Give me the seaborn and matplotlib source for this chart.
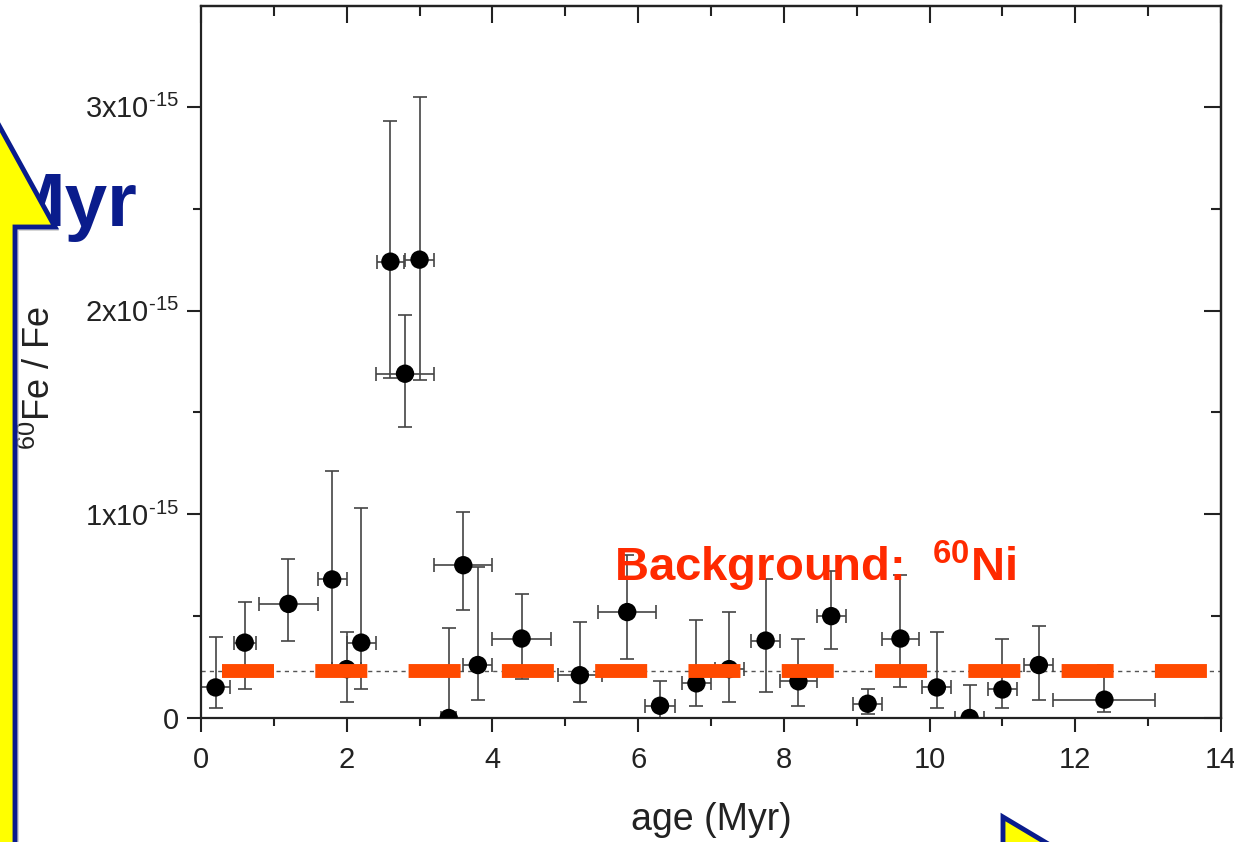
import matplotlib
matplotlib.use("Agg")
import matplotlib.pyplot as plt
from matplotlib.patches import Polygon
from matplotlib.ticker import MultipleLocator, FuncFormatter
import numpy as np
import pandas as pd
import seaborn as sns

# data (ratio in units of 1e-15)
age = [0.2, 0.6, 1.2, 1.8, 2.0, 2.2, 2.6, 2.8, 3.0, 3.4, 3.6, 3.8, 4.4, 5.2,
       5.85, 6.3, 6.8, 7.25, 7.75, 8.2, 8.65, 9.15, 9.6, 10.1, 10.55, 11.0, 11.5, 12.4]
age_err = [0.2, 0.15, 0.4, 0.2, 0.2, 0.2, 0.18, 0.4, 0.2, 0.1, 0.4, 0.2, 0.4, 0.3,
           0.4, 0.2, 0.2, 0.2, 0.2, 0.25, 0.2, 0.2, 0.25, 0.2, 0.2, 0.2, 0.2, 0.7]
ratio = [0.15, 0.37, 0.56, 0.68, 0.24, 0.37, 2.24, 1.69, 2.25, 0.0, 0.75, 0.26, 0.39, 0.21,
         0.52, 0.06, 0.17, 0.24, 0.38, 0.18, 0.50, 0.07, 0.39, 0.15, 0.0, 0.14, 0.26, 0.09]
ratio_hi = [0.40, 0.57, 0.78, 1.21, 0.42, 1.03, 2.93, 1.98, 3.05, 0.44, 1.01, 0.74, 0.61, 0.47,
            0.80, 0.18, 0.48, 0.52, 0.68, 0.39, 0.72, 0.14, 0.70, 0.42, 0.16, 0.39, 0.45, 0.26]
ratio_lo = [0.05, 0.14, 0.38, 0.25, 0.08, 0.14, 1.67, 1.43, 1.66, 0.0, 0.53, 0.09, 0.19, 0.08,
            0.29, 0.0, 0.06, 0.08, 0.13, 0.06, 0.34, 0.02, 0.15, 0.05, 0.0, 0.05, 0.09, 0.03]
background = 0.23
scale = 1e-15

W, H = 1234, 842

sns.set_theme(style="ticks")
plt.rcParams["font.family"] = ["Liberation Sans", "DejaVu Sans"]
plt.rcParams["mathtext.fontset"] = "custom"
plt.rcParams["mathtext.rm"] = "Liberation Sans"
plt.rcParams["mathtext.it"] = "Liberation Sans:italic"
plt.rcParams["mathtext.bf"] = "Liberation Sans:bold"

df = pd.DataFrame({
    "age": age,
    "ratio": np.array(ratio) * scale,
})
lo = (np.array(ratio) - np.array(ratio_lo)) * scale
hi = (np.array(ratio_hi) - np.array(ratio)) * scale

fig = plt.figure(figsize=(W / 100, H / 100), dpi=100)
fig.patch.set_facecolor("white")


def fx(x, y):
    # pixel position (from top-left) -> figure fraction
    return (x / W, 1 - y / H)


ax = fig.add_axes([201 / W, 1 - 718 / H, 1020 / W, 712 / H])

# dotted background reference line
ax.axhline(background * scale, color="#555555", lw=1.0, ls=(0, (3, 3)), zorder=1)

ax.errorbar(df["age"], df["ratio"], xerr=age_err, yerr=[lo, hi], fmt="none",
            ecolor="#444444", elinewidth=1.2, capsize=5, capthick=1.2, zorder=2)
sns.scatterplot(data=df, x="age", y="ratio", ax=ax, color="black", s=175,
                edgecolor="none", zorder=3, legend=False)

# thick orange dashed background
ax.plot([0.29, 13.85], [background * scale] * 2, color="#FF4A00", lw=10,
        dashes=(3.744, 2.973), solid_capstyle="butt", dash_capstyle="butt", zorder=4)

ax.set_xlim(0, 14)
ax.set_ylim(0, 3.495e-15)
ax.xaxis.set_major_locator(MultipleLocator(2))
ax.xaxis.set_minor_locator(MultipleLocator(1))
ax.yaxis.set_major_locator(MultipleLocator(1e-15))
ax.yaxis.set_minor_locator(MultipleLocator(0.5e-15))


def yfmt(v, pos):
    n = int(round(v / 1e-15))
    if n == 0:
        return "0"
    return "$\\mathrm{%dx10^{\u2010 15}}$".replace("\u2010 ", "\u2010") % n


ax.yaxis.set_major_formatter(FuncFormatter(yfmt))
ax.tick_params(axis="both", which="major", labelsize=21, length=10, width=1.5,
               color="#222222", labelcolor="#222222")
ax.tick_params(axis="both", which="minor", length=6, width=1.5, color="#222222")
ax.tick_params(axis="x", pad=10)
ax.tick_params(axis="y", pad=6)

# inward ticks on top/right
ax2 = ax.secondary_xaxis("top")
ax2.xaxis.set_major_locator(MultipleLocator(2))
ax2.xaxis.set_minor_locator(MultipleLocator(1))
ax2.tick_params(which="both", direction="in", labeltop=False, width=1.5, color="#222222")
ax2.tick_params(which="major", length=12)
ax2.tick_params(which="minor", length=7)
ax3 = ax.secondary_yaxis("right")
ax3.yaxis.set_major_locator(MultipleLocator(1e-15))
ax3.yaxis.set_minor_locator(MultipleLocator(0.5e-15))
ax3.tick_params(which="both", direction="in", labelright=False, width=1.5, color="#222222")
ax3.tick_params(which="major", length=12)
ax3.tick_params(which="minor", length=7)
for a in (ax, ax2, ax3):
    for sp in a.spines.values():
        sp.set_linewidth(1.6)
        sp.set_color("#222222")

ax.set_xlabel("age (Myr)", fontsize=27, color="#222222", labelpad=20)
ax.set_ylabel("")
fig.text(*fx(40, 378), r"$^{60}$Fe / Fe", rotation=90, fontsize=26, color="#222222",
         ha="center", va="center")

# red annotation
fig.text(*fx(614, 581), r"Background:  $\mathbf{^{60}}$Ni", fontsize=34, fontweight="bold",
         color="#FF2A00", ha="left", va="baseline", zorder=10)

# "Myr" partly hidden behind the yellow arrow
fig.text(*fx(2, 226), "Myr", fontsize=55, fontweight="bold", color="#0A1C8C",
         ha="left", va="baseline", zorder=5)

# yellow arrows with blue outlines
left_arrow = [(15, 900), (15, 227), (55, 227), (-20, 91), (-95, 227), (-55, 227), (-55, 900)]
shadow = Polygon([fx(x + 4, y + 4) for x, y in left_arrow], closed=True,
                 transform=fig.transFigure, facecolor="#bbbbbb", edgecolor="none",
                 alpha=0.6, zorder=6)
fig.patches.append(shadow)
fig.patches.append(Polygon([fx(x, y) for x, y in left_arrow], closed=True,
                           transform=fig.transFigure, facecolor="#FFFF00",
                           edgecolor="#0A1C8C", lw=3.5, zorder=7))
br_arrow = [(1003, 817), (1075, 860), (1003, 860)]
fig.patches.append(Polygon([fx(x, y) for x, y in br_arrow], closed=True,
                           transform=fig.transFigure, facecolor="#FFFF00",
                           edgecolor="#0A1C8C", lw=3.5, zorder=7))

fig.savefig("out.png", dpi=100)
